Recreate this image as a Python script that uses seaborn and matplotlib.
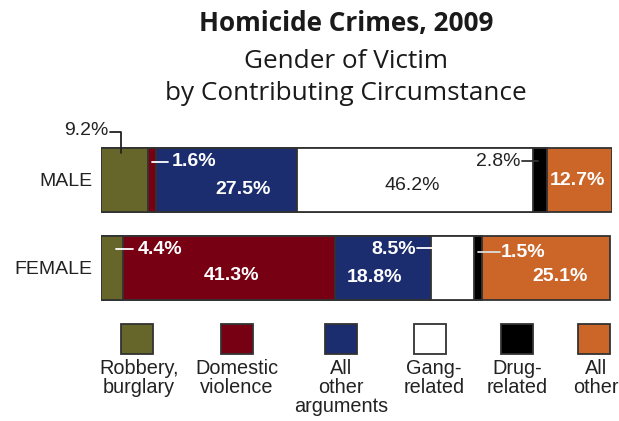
import numpy as np
import pandas as pd
import seaborn as sns
import matplotlib.pyplot as plt
from matplotlib.patches import Rectangle

# data (percent of victims)
genders = ["MALE", "FEMALE"]
categories = ["Robbery, burglary", "Domestic violence", "All other arguments",
              "Gang-related", "Drug-related", "All other"]
legend_labels = ["Robbery,\nburglary", "Domestic\nviolence", "All\nother\narguments",
                 "Gang-\nrelated", "Drug-\nrelated", "All\nother"]
male_pct = [9.2, 1.6, 27.5, 46.2, 2.8, 12.7]
female_pct = [4.4, 41.3, 18.8, 8.5, 1.5, 25.1]
colors = ["#66662a", "#770012", "#1b2d6e", "#ffffff", "#000000", "#cc6628"]

rows = []
for g, vals in zip(genders, [male_pct, female_pct]):
    cum = np.cumsum(vals)
    for cat, v, c in zip(categories, vals, cum):
        rows.append({"gender": g, "category": cat, "pct": v, "cum": c})
df = pd.DataFrame(rows)

sns.set_theme(style="white")
plt.rcParams["font.family"] = ["Liberation Sans", "DejaVu Sans"]

fig = plt.figure(figsize=(6.19, 4.21), dpi=100)
ax = fig.add_axes([101/619, 1-312/421, 511/619, 176/421])

edge = "#333333"
# stacked bars: draw cumulative totals from the right-most segment backwards
for i in reversed(range(len(categories))):
    sub = df[df.category == categories[i]]
    sns.barplot(data=sub, x="cum", y="gender", order=genders, orient="h",
                color=colors[i], saturation=1, edgecolor=edge, linewidth=1.3,
                width=64/88, errorbar=None, ax=ax)

ax.set_xlim(0, 100)
ax.set_ylim(1.5, -0.5)
ax.set_xlabel("")
ax.set_ylabel("")
ax.set_xticks([])
ax.tick_params(axis="y", length=0, pad=6, labelsize=14, labelcolor="#222222")
sns.despine(ax=ax, left=True, bottom=True)

# value labels: (text, x, y, color, weight, ha)
labels = [
    ("9.2%", 1.4, -0.56, "#222222", "normal", "right"),
    ("1.6%", 13.9, -0.205, "white", "bold", "left"),
    ("27.5%", 27.8, 0.11, "white", "bold", "center"),
    ("46.2%", 60.9, 0.06, "#222222", "normal", "center"),
    ("2.8%", 82.0, -0.205, "#222222", "normal", "right"),
    ("12.7%", 93.3, 0.01, "white", "bold", "center"),
    ("4.4%", 7.2, 0.795, "white", "bold", "left"),
    ("41.3%", 25.6, 1.08, "white", "bold", "center"),
    ("8.5%", 61.6, 0.795, "white", "bold", "right"),
    ("18.8%", 53.6, 1.11, "white", "bold", "center"),
    ("1.5%", 78.2, 0.82, "white", "bold", "left"),
    ("25.1%", 89.8, 1.10, "white", "bold", "center"),
]
for txt, x, y, c, w, ha in labels:
    ax.text(x, y, txt, color=c, fontweight=w, ha=ha, va="center", fontsize=14,
            clip_on=False)

# leader lines
leaders = [
    ([1.8, 3.9, 3.9], [-0.545, -0.545, -0.31], "#222222"),
    ([10.0, 13.1], [-0.205, -0.205], "white"),
    ([82.4, 85.5], [-0.215, -0.215], "#333333"),
    ([2.9, 6.3], [0.785, 0.785], "white"),
    ([61.8, 64.8], [0.775, 0.775], "white"),
    ([73.8, 78.0], [0.82, 0.82], "#dddddd"),
]
for xs, ys, c in leaders:
    ax.plot(xs, ys, color=c, lw=1.3, clip_on=False)

# titles
fig.text(346/619, 1-23/421, "Homicide Crimes, 2009", ha="center", va="center",
         fontsize=18.8, fontweight="bold", family="Open Sans", color="#1a1a1a")
fig.text(346/619, 1-61/421, "Gender of Victim", ha="center", va="center",
         fontsize=18.8, family="Open Sans", color="#1a1a1a")
fig.text(346/619, 1-94/421, "by Contributing Circumstance", ha="center", va="center",
         fontsize=18.8, family="Open Sans", color="#1a1a1a")

# custom legend: swatch above, label below
sw_x = [137, 237, 341, 430, 517, 594]
lab_x = [139, 237, 341, 434, 517, 596]
for i, cat in enumerate(categories):
    fig.patches.append(Rectangle(((sw_x[i]-16)/619, 1-354/421), 32/619, 30/421,
                                 transform=fig.transFigure, facecolor=colors[i],
                                 edgecolor=edge, lw=1.3))
    fig.text(lab_x[i]/619, 1-359/421, legend_labels[i], ha="center", va="top",
             fontsize=14.3, linespacing=1.0, color="#222222")

fig.savefig("out.png", dpi=100)
